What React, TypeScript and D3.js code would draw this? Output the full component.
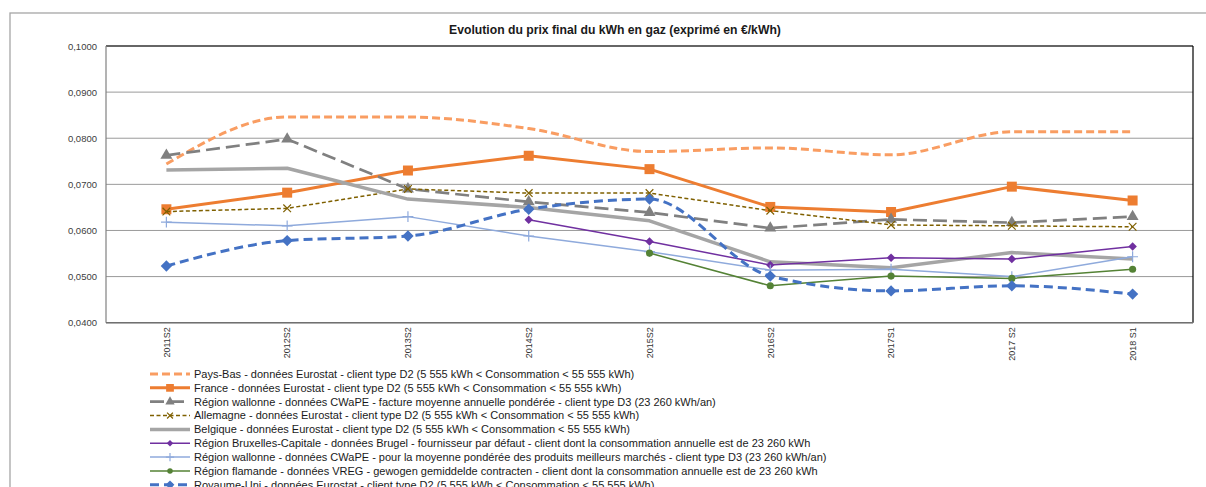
import * as d3 from "d3";

const categories = ["2011S2", "2012S2", "2013S2", "2014S2", "2015S2", "2016S2", "2017S1", "2017 S2", "2018 S1"];
const yTicks = [0.04, 0.05, 0.06, 0.07, 0.08, 0.09, 0.1];

const paysBas = [0.0744, 0.0846, 0.0846, 0.0821, 0.0771, 0.0779, 0.0764, 0.0814, 0.0814];
const france = [0.0646, 0.0682, 0.073, 0.0762, 0.0733, 0.0651, 0.064, 0.0695, 0.0665];
const wallonieFacture = [0.0763, 0.0798, 0.069, 0.0662, 0.0639, 0.0605, 0.0624, 0.0617, 0.063];
const allemagne = [0.0641, 0.0648, 0.069, 0.0681, 0.0681, 0.0643, 0.0612, 0.061, 0.0608];
const belgique = [0.0731, 0.0735, 0.0668, 0.065, 0.0621, 0.0532, 0.0519, 0.0552, 0.0538];
const bruxelles = [null, null, null, 0.0623, 0.0576, 0.0525, 0.0541, 0.0538, 0.0565];
const wallonieMarche = [0.0618, 0.061, 0.063, 0.0588, 0.0554, 0.0514, 0.0516, 0.05, 0.0543];
const flandre = [null, null, null, null, 0.0551, 0.048, 0.0501, 0.0496, 0.0516];
const royaumeUni = [0.0523, 0.0578, 0.0588, 0.0646, 0.0668, 0.0501, 0.0469, 0.048, 0.0462];

type Marker = "none" | "square" | "triangle" | "times" | "diamond" | "plus" | "circle";

interface Series {
  name: string;
  values: (number | null)[];
  color: string;
  width: number;
  dash?: string;
  marker: Marker;
  markerSize: number;
  smooth?: boolean;
}

const series: Series[] = [
  { name: "Pays-Bas - données Eurostat - client type D2 (5 555 kWh < Consommation < 55 555 kWh)", values: paysBas, color: "#F99D62", width: 3, dash: "8,4", marker: "none", markerSize: 0, smooth: true },
  { name: "France - données Eurostat - client type D2 (5 555 kWh < Consommation < 55 555 kWh)", values: france, color: "#ED7D31", width: 3, marker: "square", markerSize: 100 },
  { name: "Région wallonne - données CWaPE - facture moyenne annuelle pondérée  - client type D3 (23 260 kWh/an)", values: wallonieFacture, color: "#808080", width: 2.7, dash: "14,6", marker: "triangle", markerSize: 62 },
  { name: "Allemagne - données Eurostat - client type D2 (5 555 kWh < Consommation < 55 555 kWh)", values: allemagne, color: "#7F6000", width: 1.5, dash: "4,2.5", marker: "times", markerSize: 40 },
  { name: "Belgique - données Eurostat - client type D2 (5 555 kWh < Consommation < 55 555 kWh)", values: belgique, color: "#A5A5A5", width: 3.5, marker: "none", markerSize: 0 },
  { name: "Région Bruxelles-Capitale - données Brugel - fournisseur par défaut - client dont la consommation annuelle est de 23 260 kWh", values: bruxelles, color: "#7030A0", width: 1.5, marker: "diamond", markerSize: 36 },
  { name: "Région wallonne - données CWaPE - pour la moyenne pondérée des produits meilleurs marchés - client type D3 (23 260 kWh/an)", values: wallonieMarche, color: "#8FAADC", width: 1.5, marker: "plus", markerSize: 40 },
  { name: "Région flamande - données VREG - gewogen gemiddelde contracten - client dont la consommation annuelle est de 23 260 kWh", values: flandre, color: "#548235", width: 1.5, marker: "circle", markerSize: 40 },
  { name: "Royaume-Uni - données Eurostat - client type D2 (5 555 kWh < Consommation < 55 555 kWh)", values: royaumeUni, color: "#4472C4", width: 3, dash: "9,5", marker: "diamond", markerSize: 64, smooth: true },
];

const font = "'Liberation Sans', Arial, sans-serif";

function MarkerShape({ type, size, color, x, y }: { type: Marker; size: number; color: string; x: number; y: number }) {
  if (type === "none") return null;
  const d3any = d3 as any;
  if (type === "times" || type === "plus") {
    const sym = type === "times" ? d3any.symbolTimes ?? d3.symbolCross : d3any.symbolPlus ?? d3.symbolCross;
    return (
      <path
        d={d3.symbol(sym, size)() ?? ""}
        transform={`translate(${x},${y})`}
        fill="none"
        stroke={color}
        strokeWidth={1.2}
      />
    );
  }
  const sym =
    type === "square" || type === "diamond"
      ? d3.symbolSquare
      : type === "triangle"
      ? d3.symbolTriangle
      : d3.symbolCircle;
  const rotate = type === "diamond" ? " rotate(45)" : "";
  return <path d={d3.symbol(sym, size)() ?? ""} transform={`translate(${x},${y})${rotate}`} fill={color} />;
}

export default function App() {
  const width = 1206;
  const height = 487;
  const plot = { left: 106, right: 1193, top: 46, bottom: 322.7 };

  const x = d3.scaleBand().domain(categories).range([plot.left, plot.right]);
  const y = d3.scaleLinear().domain([0.04, 0.1]).range([plot.bottom, plot.top]);
  const cx = (c: string) => (x(c) ?? 0) + x.bandwidth() / 2;
  const fmt = (v: number) => v.toFixed(4).replace(".", ",");

  const legendX = 150;
  const legendTop = 374;
  const legendStep = 13.85;

  return (
    <svg
      width={width}
      height={height}
      style={{ position: "absolute", left: 0, top: 0, display: "block", background: "#fff" }}
      fontFamily={font}
    >
      <rect x={10} y={13} width={1300} height={600} fill="#fff" stroke="#A6A6A6" strokeWidth={1.3} />
      <text x={615} y={33.5} textAnchor="middle" fontSize={12.2} fontWeight="bold" fill="#1a1a1a">
        Evolution du prix final du kWh en gaz (exprimé en €/kWh)
      </text>

      {yTicks.map((t) => (
        <g key={t}>
          <line x1={plot.left} x2={plot.right} y1={y(t)} y2={y(t)} stroke="#9A9A9A" strokeWidth={1} />
          <text x={97} y={y(t) + 3.5} textAnchor="end" fontSize={9.5} fill="#404040">
            {fmt(t)}
          </text>
        </g>
      ))}
      <line x1={plot.left} x2={plot.right} y1={plot.top} y2={plot.top} stroke="#000" strokeWidth={1.2} />
      <line x1={plot.right} x2={plot.right} y1={plot.top} y2={plot.bottom} stroke="#000" strokeWidth={1.2} />
      <line x1={plot.left} x2={plot.left} y1={plot.top} y2={plot.bottom} stroke="#808080" strokeWidth={1.2} />
      <line x1={plot.left} x2={plot.right} y1={plot.bottom} y2={plot.bottom} stroke="#707070" strokeWidth={1.5} />

      {categories.map((c) => (
        <text
          key={c}
          transform={`translate(${cx(c) + 3.3},${plot.bottom + 4.5}) rotate(-90)`}
          textAnchor="end"
          fontSize={9}
          fill="#333"
        >
          {c}
        </text>
      ))}

      {series.map((s) => {
        const line = d3
          .line<number | null>()
          .defined((v) => v !== null)
          .x((_, i) => cx(categories[i]))
          .y((v) => y(v as number))
          .curve(s.smooth ? d3.curveMonotoneX : d3.curveLinear);
        return (
          <g key={s.name}>
            <path
              d={line(s.values) ?? ""}
              fill="none"
              stroke={s.color}
              strokeWidth={s.width}
              strokeDasharray={s.dash}
              strokeLinejoin="round"
            />
            {s.values.map((v, i) =>
              v === null ? null : (
                <MarkerShape key={i} type={s.marker} size={s.markerSize} color={s.color} x={cx(categories[i])} y={y(v)} />
              )
            )}
          </g>
        );
      })}

      {series.map((s, i) => {
        const ly = legendTop + i * legendStep;
        return (
          <g key={s.name}>
            <line
              x1={legendX}
              x2={legendX + 40}
              y1={ly}
              y2={ly}
              stroke={s.color}
              strokeWidth={s.width}
              strokeDasharray={s.dash}
            />
            <MarkerShape type={s.marker} size={s.markerSize * 0.6} color={s.color} x={legendX + 20} y={ly} />
            <text x={legendX + 44} y={ly + 3.9} fontSize={11} fill="#1a1a1a">
              {s.name}
            </text>
          </g>
        );
      })}
    </svg>
  );
}
